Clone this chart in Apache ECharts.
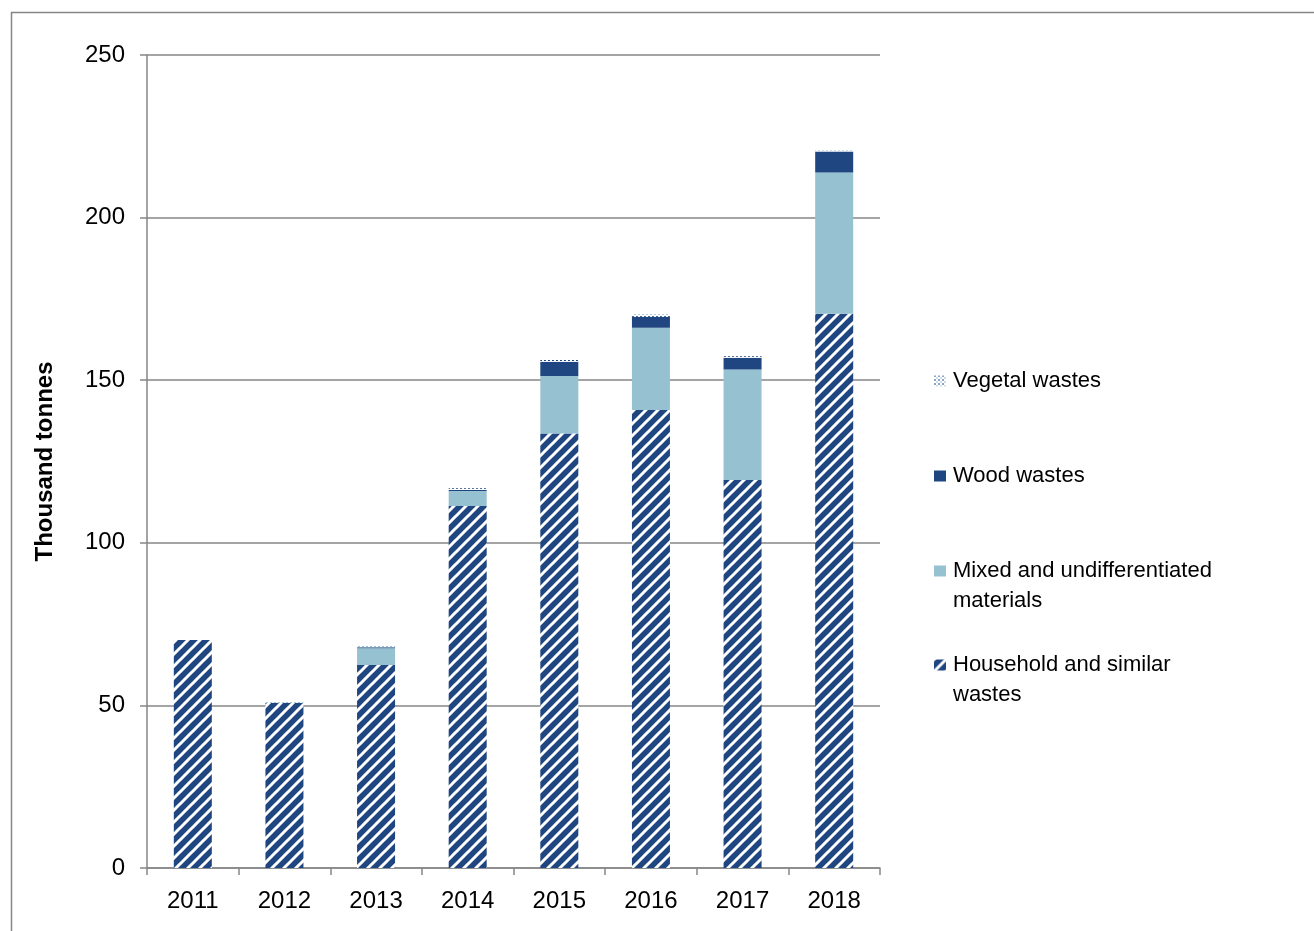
<!DOCTYPE html>
<html>
<head>
<meta charset="utf-8">
<script src="https://cdn.jsdelivr.net/npm/echarts@6/dist/echarts.min.js"></script>
<style>
  html, body { margin: 0; padding: 0; background: #fff; }
  #chart { width: 1314px; height: 931px; }
</style>
</head>
<body>
<div id="chart"></div>
<script>
var years = ['2011', '2012', '2013', '2014', '2015', '2016', '2017', '2018'];
var household = [70.1, 50.8, 62.4, 111.3, 133.6, 140.8, 119.3, 170.4];
var mixed = [0, 0, 5.2, 4.6, 17.7, 25.3, 34.0, 43.5];
var wood = [0, 0, 0.3, 0.3, 4.4, 3.4, 3.6, 6.4];
var vegetal = [0, 0.5, 0.55, 0.6, 0.5, 0.8, 0.5, 0.3];
var yTicks = [0, 50, 100, 150, 200, 250];

var darkBlue = '#1f4680';
var lightBlue = '#96c1d1';
var gridGrey = '#868686';
var font = 'Arial, "Liberation Sans", sans-serif';

// diagonal "/" hatching for household wastes
function hatchTile() {
  var c = document.createElement('canvas');
  c.width = 12; c.height = 12;
  var ctx = c.getContext('2d');
  ctx.fillStyle = darkBlue;
  ctx.fillRect(0, 0, 12, 12);
  ctx.strokeStyle = '#ffffff';
  ctx.lineWidth = 3;
  [[-6, 6, 6, -6], [0, 12, 12, 0], [6, 18, 18, 6]].forEach(function (l) {
    ctx.beginPath();
    ctx.moveTo(l[0], l[1]);
    ctx.lineTo(l[2], l[3]);
    ctx.stroke();
  });
  return c;
}

// small dotted pattern for vegetal wastes
function dotTile() {
  var c = document.createElement('canvas');
  c.width = 4; c.height = 4;
  var ctx = c.getContext('2d');
  ctx.fillStyle = '#ffffff';
  ctx.fillRect(0, 0, 4, 4);
  ctx.fillStyle = darkBlue;
  ctx.fillRect(0, 0, 2, 1);
  ctx.fillStyle = lightBlue;
  ctx.fillRect(2, 2, 2, 1);
  return c;
}

var hatch = { image: hatchTile(), repeat: 'repeat' };
var dots = { image: dotTile(), repeat: 'repeat' };

// one legend per item so each can sit where the original puts it;
// two-line names get an empty first line so the icon lines up with line one
function legendAt(name, top, twoLines) {
  return {
    data: [name],
    left: 934,
    top: top,
    orient: 'vertical',
    padding: 0,
    itemWidth: 12,
    itemHeight: 11,
    selectedMode: false,
    icon: 'rect',
    formatter: function (n) { return twoLines ? ' \n' + n : n; },
    textStyle: {
      fontFamily: font,
      fontSize: 22,
      color: '#000',
      lineHeight: 30,
      padding: [0, 0, 0, 2]
    }
  };
}

var chart = echarts.init(document.getElementById('chart'), null, { renderer: 'canvas' });

var option = {
  animation: false,
  backgroundColor: '#fff',
  graphic: [{
    type: 'rect',
    shape: { x: 11.5, y: 12.5, width: 1400, height: 1000 },
    style: { fill: 'none', stroke: gridGrey, lineWidth: 1.5 },
    silent: true
  }],
  grid: { left: 147, right: 434, top: 55, bottom: 63 },
  legend: [
    legendAt('Vegetal wastes', 366, false),
    legendAt('Wood wastes', 461, false),
    legendAt('Mixed and undifferentiated\nmaterials', 526, true),
    legendAt('Household and similar\nwastes', 620, true)
  ],
  xAxis: {
    type: 'category',
    data: years,
    axisLine: { lineStyle: { color: gridGrey, width: 1.5 } },
    axisTick: { show: true, length: 7, lineStyle: { color: gridGrey, width: 1.5 } },
    axisLabel: { fontFamily: font, fontSize: 24, color: '#000', margin: 21 }
  },
  yAxis: {
    type: 'value',
    min: yTicks[0],
    max: yTicks[yTicks.length - 1],
    interval: 50,
    name: 'Thousand tonnes',
    nameLocation: 'middle',
    nameGap: 90,
    nameTextStyle: { fontFamily: font, fontSize: 24, fontWeight: 'bold', color: '#000' },
    axisLine: { show: true, lineStyle: { color: gridGrey, width: 1.5 } },
    axisTick: { show: true, length: 7, lineStyle: { color: gridGrey, width: 1.5 } },
    splitLine: { lineStyle: { color: gridGrey, width: 1.5 } },
    axisLabel: { fontFamily: font, fontSize: 24, color: '#000', margin: 22 }
  },
  series: [
    {
      name: 'Household and similar\nwastes',
      type: 'bar', stack: 'total', barWidth: 38,
      itemStyle: { color: hatch },
      data: household
    },
    {
      name: 'Mixed and undifferentiated\nmaterials',
      type: 'bar', stack: 'total', barWidth: 38,
      itemStyle: { color: lightBlue },
      data: mixed
    },
    {
      name: 'Wood wastes',
      type: 'bar', stack: 'total', barWidth: 38,
      itemStyle: { color: darkBlue },
      data: wood
    },
    {
      name: 'Vegetal wastes',
      type: 'bar', stack: 'total', barWidth: 38,
      itemStyle: { color: dots },
      data: vegetal
    }
  ]
};

chart.setOption(option);
</script>
</body>
</html>
